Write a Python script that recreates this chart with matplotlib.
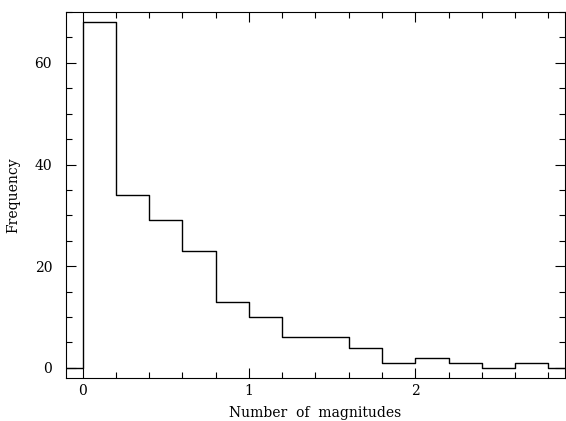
import numpy as np
import matplotlib
matplotlib.use("Agg")
import matplotlib.pyplot as plt
from matplotlib.ticker import MultipleLocator

# histogram bins (width 0.2) and counts
bin_edges = [0.0, 0.2, 0.4, 0.6, 0.8, 1.0, 1.2, 1.4, 1.6, 1.8, 2.0, 2.2, 2.4, 2.6, 2.8, 3.0]
counts = [68, 34, 29, 23, 13, 10, 6, 6, 4, 1, 2, 1, 0, 1, 0]

fig = plt.figure(figsize=(5.66, 4.21), dpi=100)
ax = fig.add_axes([0.1166, 0.102, 0.8816, 0.8695])

# step outline, with zero level drawn before first bin
xs = [-0.2] + bin_edges
ys = [0] + counts + [0]
ax.step(xs, ys, where="post", color="black", lw=1.0)

ax.set_xlim(-0.1, 2.9)
ax.set_ylim(-2, 70)

ax.xaxis.set_major_locator(MultipleLocator(1))
ax.xaxis.set_minor_locator(MultipleLocator(0.2))
ax.yaxis.set_major_locator(MultipleLocator(20))
ax.yaxis.set_minor_locator(MultipleLocator(5))
ax.tick_params(which="both", direction="in", top=True, right=True, width=0.8,
               labelsize=10)
ax.tick_params(which="major", length=7)
ax.tick_params(which="minor", length=4)
ax.tick_params(axis="x", which="major", pad=4)
ax.tick_params(axis="y", which="major", pad=10)
for lab in ax.get_xticklabels() + ax.get_yticklabels():
    lab.set_family("DejaVu Serif")
for s in ax.spines.values():
    s.set_linewidth(0.8)

ax.set_xlabel("Number  of  magnitudes", family="DejaVu Serif", fontsize=10,
              labelpad=6)
ax.set_ylabel("Frequency", family="DejaVu Serif", fontsize=10, labelpad=10)

fig.savefig("out.png", dpi=100)
